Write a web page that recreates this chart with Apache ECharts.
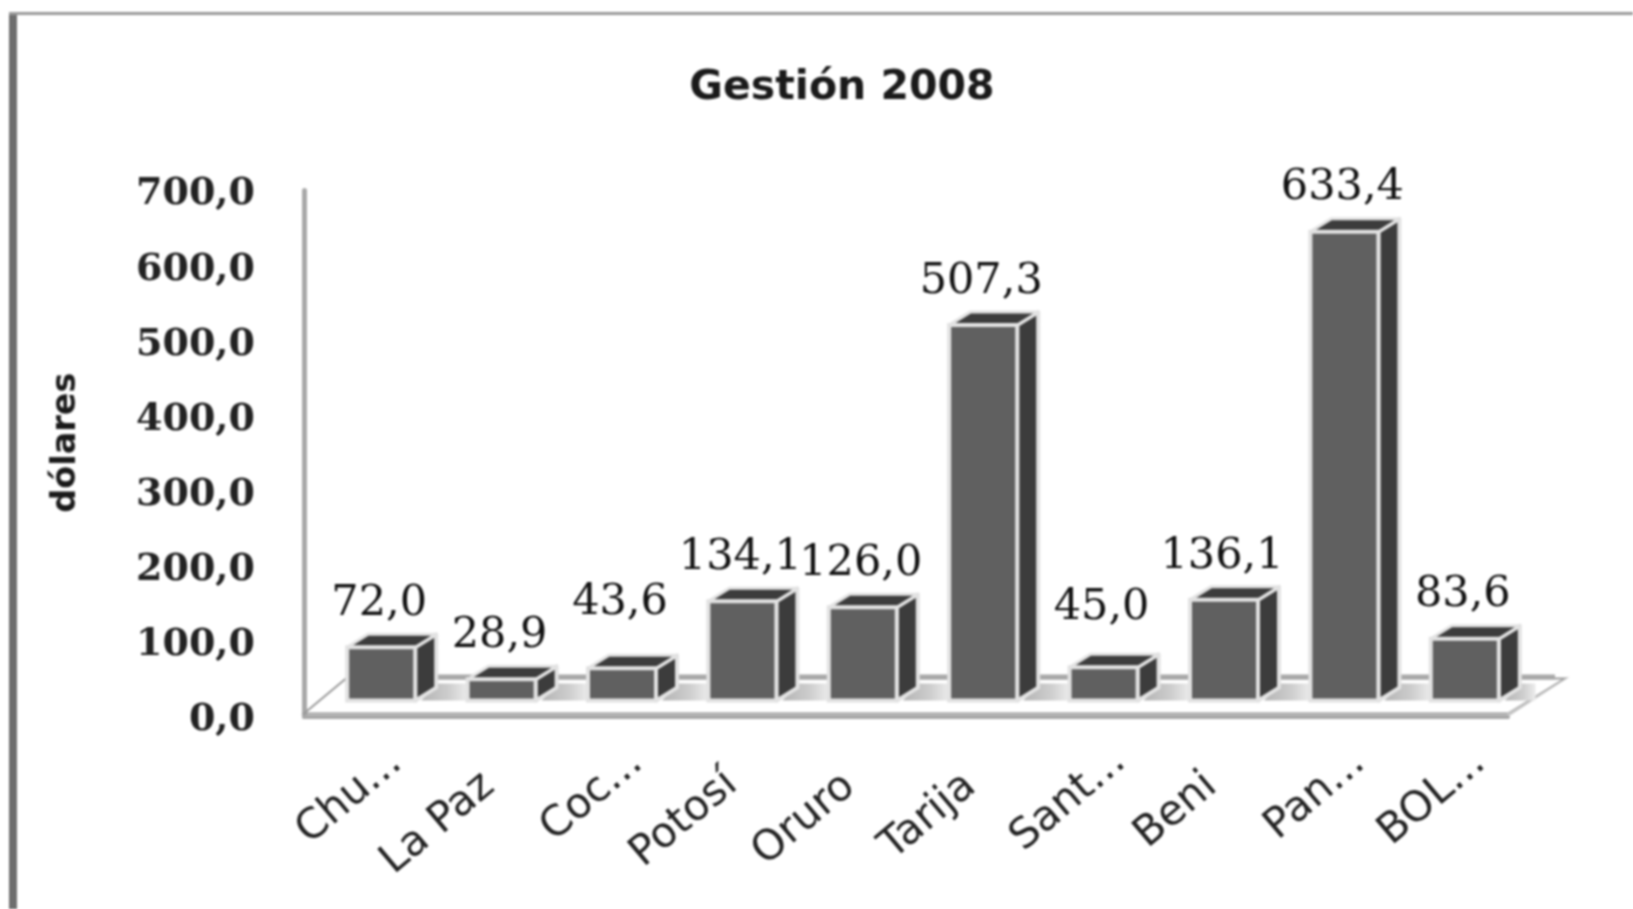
<!DOCTYPE html>
<html>
<head>
<meta charset="utf-8">
<style>
html,body{margin:0;padding:0;background:#fff}
#c{width:1633px;height:909px;filter:blur(1.1px)}
</style>
<script src="https://cdn.jsdelivr.net/npm/echarts@6/dist/echarts.min.js"></script>
</head>
<body>
<div id="c"></div>
<script>
const categories = ['Chu...', 'La Paz', 'Coc...', 'Potosí', 'Oruro', 'Tarija', 'Sant...', 'Beni', 'Pan...', 'BOL...'];
const values = [72.0, 28.9, 43.6, 134.1, 126.0, 507.3, 45.0, 136.1, 633.4, 83.6];
const labelLift = [0, 0, 22, 0, 0, 0, 16, 0, 0, 0];
const tickNudge = [42, 6, 42, 9, 5, 6, 44, 6, 42, 42];
const titleText = 'Gestión 2008';
const axisTitle = 'dólares';

const comma = v => v.toFixed(1).replace('.', ',');
const FRONT = '#606060', DARK = '#3c3c3c', EDGE = '#e2e2e2', AXIS = '#a8a8a8';
const DX = 21, DY = 13, SHIFT_X = 17, SHIFT_Y = 16, BAR_W = 68, DEPTH_SCALE = 0.985;

function renderFloor(params, api) {
  const s = params.coordSys;
  const l = s.x, r = s.x + s.width, b = s.y + s.height;
  return {
    type: 'group', silent: true,
    children: [
      {type: 'polygon', shape: {points: [[l, b - 3], [l + 42, b - 38], [r + 57, b - 38], [r, b - 3]]},
        style: {fill: '#ffffff', stroke: '#9a9a9a', lineWidth: 2}},
      {type: 'rect', shape: {x: l + 42, y: b - 42, width: r + 47 - l - 42, height: 5}, style: {fill: AXIS}},
      {type: 'polygon', shape: {points: [[r - 1, b - 3], [r + 57, b - 38], [r + 62, b - 40], [r + 2, b - 1]]}, style: {fill: '#c4c4c4'}}
    ]
  };
}

function renderBar(params, api) {
  const i = api.value(0), v = api.value(1);
  const base = api.coord([i, 0]), top = api.coord([i, v]);
  const cx = base[0] + SHIFT_X, x0 = cx - BAR_W / 2, x1 = cx + BAR_W / 2;
  const yb = base[1] - SHIFT_Y, yt = yb - (base[1] - top[1]) * DEPTH_SCALE;
  const band = api.size([1, 0])[0];
  const gap = (band - BAR_W) * (i === values.length - 1 ? 0.7 : 1);
  return {
    type: 'group', silent: true,
    children: [
      {type: 'polygon', shape: {points: [[x1 + 6, yb], [x1 + DX + 2, yb - 17], [x1 + gap, yb - 17], [x1 + gap, yb]]},
        style: {fill: new echarts.graphic.LinearGradient(0, 0, 1, 0, [
          {offset: 0, color: '#b4b4b4'}, {offset: 0.6, color: '#cecece'}, {offset: 1, color: '#ececec'}])}},
      {type: 'polygon', shape: {points: [[x1, yt], [x1 + DX, yt - DY], [x1 + DX, yb - DY], [x1, yb]]},
        style: {fill: DARK, stroke: EDGE, lineWidth: 4, lineJoin: 'round'}},
      {type: 'polygon', shape: {points: [[x0, yt], [x0 + DX, yt - DY], [x1 + DX, yt - DY], [x1, yt]]},
        style: {fill: DARK, stroke: EDGE, lineWidth: 3, lineJoin: 'round'}},
      {type: 'rect', shape: {x: x0, y: yt, width: BAR_W, height: yb - yt},
        style: {fill: FRONT, stroke: EDGE, lineWidth: 4}},
      {type: 'text', style: {text: comma(v), x: cx - 2, y: yt - DY - 9 - labelLift[i],
        align: 'center', verticalAlign: 'bottom', fill: '#111111',
        font: '43px "DejaVu Serif"'}}
    ]
  };
}

const chart = echarts.init(document.getElementById('c'), null, {renderer: 'canvas'});
chart.setOption({
  animation: false,
  backgroundColor: '#ffffff',
  title: {text: titleText, left: 837, top: 63, textAlign: 'center',
    textStyle: {fontFamily: 'DejaVu Sans', fontWeight: 'bold', fontSize: 41, color: '#1a1a1a'}},
  grid: {left: 304, width: 1204, top: 190.6, height: 526, containLabel: false},
  graphic: [
    {type: 'rect', shape: {x: 9, y: 12, width: 8, height: 897}, style: {fill: '#6e6e6e'}, silent: true},
    {type: 'rect', shape: {x: 9, y: 12, width: 1624, height: 3}, style: {fill: '#9a9a9a'}, silent: true}
  ],
  xAxis: {
    type: 'category',
    data: categories.map((c, i) => ({value: c, textStyle: {padding: [0, -tickNudge[i], 0, 0]}})),
    axisTick: {show: false},
    axisLine: {show: true, lineStyle: {color: AXIS, width: 4}},
    axisLabel: {rotate: 40, margin: 68, interval: 0, fontFamily: 'DejaVu Sans', fontSize: 42, color: '#222', hideOverlap: false}
  },
  yAxis: {
    type: 'value', min: 0, max: 700, interval: 100,
    name: axisTitle, nameLocation: 'middle', nameGap: 221, nameRotate: 90,
    nameTextStyle: {fontFamily: 'DejaVu Sans', fontWeight: 'bold', fontSize: 33.5, color: '#1a1a1a', padding: [0, 0, 0, 22]},
    axisTick: {show: false},
    splitLine: {show: false},
    axisLine: {show: true, lineStyle: {color: AXIS, width: 5}},
    axisLabel: {margin: 49, verticalAlign: 'top', padding: [-15, 0, 0, 0], fontFamily: 'DejaVu Serif', fontWeight: 'bold', fontSize: 38, color: '#222', formatter: v => comma(v)}
  },
  series: [
    {type: 'custom', coordinateSystem: 'cartesian2d', data: [[0, 0]], renderItem: renderFloor, z: 1, clip: false},
    {type: 'custom', coordinateSystem: 'cartesian2d', encode: {x: 0, y: 1},
      data: values.map((v, i) => [i, v]), renderItem: renderBar, z: 3, clip: false}
  ]
});
</script>
</body>
</html>
